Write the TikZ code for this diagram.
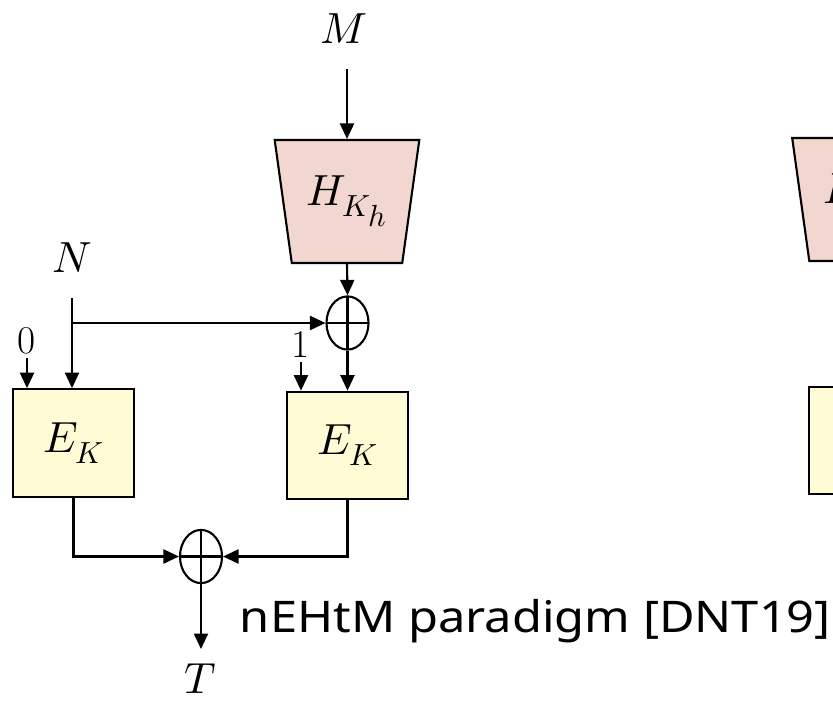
\documentclass[tikz,border=0pt]{standalone}
\usepackage{graphicx}
\usepackage{unicode-math}
\newfontfamily\labelfont{Noto Sans}
\usetikzlibrary{shapes.geometric,arrows.meta,positioning}
\definecolor{hashpink}{HTML}{F2D7D0}
\definecolor{blockyellow}{HTML}{FFFCD5}
\tikzset{
  arr/.style={line width=1.5pt, -{Triangle[length=11pt,width=10pt]}},
  mathlbl/.style={font=\fontsize{31}{33}\selectfont},
  bitlbl/.style={font=\fontsize{28}{30}\selectfont},
  blockcipher/.style={draw, line width=1.5pt, fill=blockyellow, minimum width=3.025cm, minimum height=2.69cm, inner sep=0pt, mathlbl},
  hashfn/.style={trapezium, draw, line width=1.5pt, fill=hashpink, shape border rotate=180, trapezium angle=76.3, trapezium stretches=true, minimum width=3.625cm, minimum height=3.075cm, inner sep=0pt, mathlbl},
  xorop/.style={ellipse, draw, line width=1.5pt, minimum width=1.05cm, minimum height=1.33cm, inner sep=0pt,
    path picture={\draw[line width=1.5pt] (path picture bounding box.north) -- (path picture bounding box.south)
      (path picture bounding box.west) -- (path picture bounding box.east);}},
}
\begin{document}
\begin{tikzpicture}[x=0.025cm, y=-0.025cm]
    % page frame, the slide is cut off on the right
    \useasboundingbox (0,0) rectangle (833,704);
    \clip (0,0) rectangle (833,704);

    % hash of the message and first xor
    \node[mathlbl] (msg) at (344,29) {$M$};
    \node[hashfn] (hash) at (347,201.5) {$H_{K_{\scriptstyle h}}$};
    \node[xorop] (xora) at (347.5,323) {};

    % nonce and the two block cipher calls
    \node[mathlbl] (nonce) at (72,257.5) {$N$};
    \coordinate (split) at (nonce |- xora);
    \node[blockcipher] (enca) at (73.5,443) {$E_K$};
    \node[blockcipher] (encb) at (347.5,445.5) {$E_K$};
    \node[bitlbl] (bita) at (27,340.5) {0};
    \node[bitlbl] (bitb) at (301,344) {1};

    % output xor and tag
    \node[xorop] (xorb) at (201,556.5) {};
    \node[mathlbl, inner sep=1pt] (tag) at (200,679) {$T$};
    \node[anchor=base west, font=\labelfont\fontsize{31}{34}\selectfont] (caption) at (235,632) {\scalebox{1.12}[1]{nEHtM paradigm [DNT19]}};

    % next construction on the slide, only its left edge is visible
    \node[hashfn] (hashr) at (864.5,199.5) {$H_{K_{\scriptstyle h}}$};
    \node[blockcipher] (encr) at (869.5,440.5) {$E_K$};

    % connectors
    \draw[arr, shorten <=1cm] (hash.north |- msg.center) -- (hash.north);
    \draw[arr] (hash.south) -- (xora.north);
    \draw[arr] (xora.south) -- (xora.south |- encb.north);
    \draw[arr, shorten <=1.01cm] (nonce.center) -- (nonce |- enca.north);
    \draw[arr] (split) -- (xora.west);
    \draw[arr, shorten <=0.44cm] (bita.center) -- (bita |- enca.north);
    \draw[arr, shorten <=0.45cm] (bitb.center) -- (bitb |- encb.north);
    \draw[arr] (enca.south) |- (xorb.west);
    \draw[arr] (encb.south) |- (xorb.east);
    \draw[arr, shorten >=0.75cm] (xorb.south) -- (xorb.south |- tag.center);
\end{tikzpicture}
\end{document}
